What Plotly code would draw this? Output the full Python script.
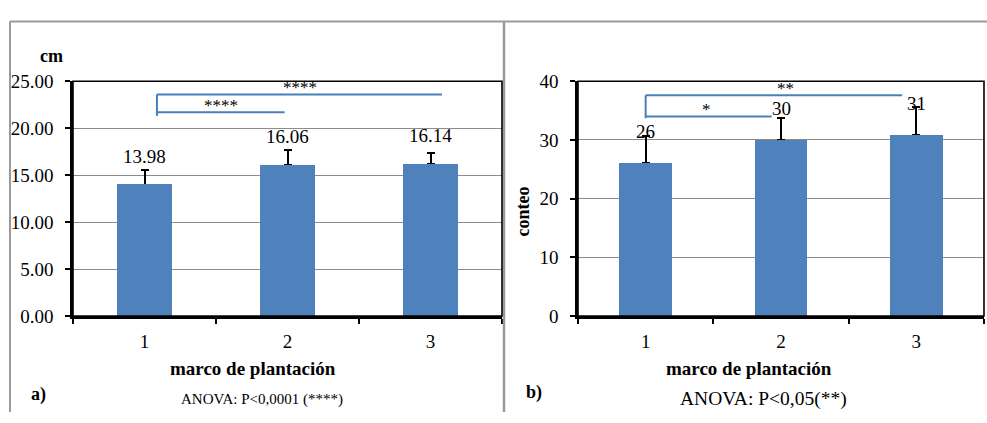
import plotly.graph_objects as go

# ---------------- data ----------------
categories = ["1", "2", "3"]
height_cm = [13.98, 16.06, 16.14]
height_err = [1.6, 1.65, 1.27]
height_labels = ["13.98", "16.06", "16.14"]

count_vals = [26.0, 30.0, 30.8]
count_err = [4.6, 3.8, 4.8]
count_labels = ["26", "30", "31"]

yticks_a = [0, 5, 10, 15, 20, 25]
yticks_b = [0, 10, 20, 30, 40]

# significance brackets: (x start, x end, y level, label, label x)
brackets_a = [(0.087, 2.08, 23.6, "****", 1.09), (0.087, 0.98, 21.7, "****", 0.535)]
brackets_a_drop = 21.3
brackets_b = [(0.0, 1.895, 37.6, "**", 1.03), (0.0, 0.93, 34.0, "*", 0.45)]
brackets_b_drop = 33.7

W, H = 987, 423
FONT = "Liberation Serif, Times New Roman, DejaVu Serif, serif"
BAR = "#4F81BD"
BRK = "#4A7EBB"
GRID = "#8C8C8C"


def px(x):
    return x / W


def py(y):
    return 1 - y / H


fig = go.Figure()

for xa, ya, vals, errs in (("x", "y", height_cm, height_err), ("x2", "y2", count_vals, count_err)):
    # bars carrying the (upper) error bars
    fig.add_trace(go.Bar(
        x=categories, y=vals, width=0.39, marker=dict(color=BAR, line=dict(width=0)),
        error_y=dict(type="data", array=errs, arrayminus=[0] * len(errs), symmetric=False,
                     color="black", thickness=2, width=4),
        xaxis=xa, yaxis=ya, showlegend=False, hoverinfo="skip"))
    # same bars again on top, hiding the lower cap of the error bars
    fig.add_trace(go.Bar(
        x=categories, y=vals, width=0.39, marker=dict(color=BAR, line=dict(width=0)),
        xaxis=xa, yaxis=ya, showlegend=False, hoverinfo="skip"))

tickfont = dict(family=FONT, size=19, color="black")
xcommon = dict(type="category", tickson="boundaries", ticks="outside", ticklen=5,
               tickwidth=2, tickcolor="black", showline=True, linecolor="black",
               linewidth=2.5, showgrid=False, tickfont=tickfont, ticklabelstandoff=6,
               fixedrange=True)
ycommon = dict(ticks="outside", ticklen=5, tickwidth=2, tickcolor="black", showline=True,
               linecolor="black", linewidth=2.5, showgrid=True, gridcolor=GRID,
               gridwidth=1.3, zeroline=False, tickfont=tickfont, ticklabelstandoff=8,
               fixedrange=True)

ydom = [py(322), py(75)]
fig.update_layout(
    width=W, height=H, autosize=False, margin=dict(l=0, r=0, t=0, b=0, pad=0),
    paper_bgcolor="white", plot_bgcolor="white", bargap=0, barmode="overlay",
    xaxis=dict(domain=[px(73), px(502)], anchor="y", **xcommon),
    yaxis=dict(domain=ydom, anchor="x", range=[0, 25], tickvals=yticks_a,
               tickformat=".2f", **ycommon),
    xaxis2=dict(domain=[px(578), px(984)], anchor="y2", **xcommon),
    yaxis2=dict(domain=ydom, anchor="x2", range=[0, 40], tickvals=yticks_b,
                tickformat="d", **ycommon),
)

shapes = []
# panel frames
shapes.append(dict(type="line", xref="paper", yref="paper", x0=px(10), x1=1, y0=py(12), y1=py(12),
                   line=dict(color="#9A9A9A", width=2)))
shapes.append(dict(type="line", xref="paper", yref="paper", x0=px(10), x1=px(10), y0=py(12), y1=0,
                   line=dict(color="#9A9A9A", width=2)))
shapes.append(dict(type="line", xref="paper", yref="paper", x0=px(504), x1=px(504), y0=py(12), y1=0,
                   line=dict(color="#9A9A9A", width=2.5)))
# plot-area borders (top/right)
for xa, ya in (("x", "y"), ("x2", "y2")):
    shapes.append(dict(type="rect", xref=f"{xa} domain", yref=f"{ya} domain", x0=0, x1=1, y0=0, y1=1,
                       line=dict(color="black", width=1.6), layer="above"))

annotations = []


def add_brackets(brs, drop, xa, ya):
    top = max(b[2] for b in brs)
    x0 = brs[0][0]
    shapes.append(dict(type="line", xref=xa, yref=ya, x0=x0, x1=x0, y0=drop, y1=top,
                       line=dict(color=BRK, width=2)))
    for (a, b, lev, lab, lx) in brs:
        shapes.append(dict(type="line", xref=xa, yref=ya, x0=a, x1=b, y0=lev, y1=lev,
                           line=dict(color=BRK, width=2)))
        annotations.append(dict(xref=xa, yref=ya, x=lx, y=lev, text=lab, showarrow=False,
                                yanchor="middle", xanchor="center", yshift=7,
                                font=dict(family=FONT, size=17, color="black")))


add_brackets(brackets_a, brackets_a_drop, "x", "y")
add_brackets(brackets_b, brackets_b_drop, "x2", "y2")

# value labels
for i, (v, lab) in enumerate(zip(height_cm, height_labels)):
    annotations.append(dict(xref="x", yref="y", x=i, y=v, text=lab, showarrow=False,
                            yanchor="bottom", yshift=16, font=dict(family=FONT, size=19, color="black")))
for i, (v, lab) in enumerate(zip(count_vals, count_labels)):
    annotations.append(dict(xref="x2", yref="y2", x=i, y=v, text=lab, showarrow=False,
                            yanchor="bottom", yshift=19, font=dict(family=FONT, size=19, color="black")))


def ptext(x, y, text, size=18, bold=False, angle=0):
    t = f"<b>{text}</b>" if bold else text
    annotations.append(dict(xref="paper", yref="paper", x=px(x), y=py(y), text=t, showarrow=False,
                            xanchor="center", yanchor="middle", textangle=angle,
                            font=dict(family=FONT, size=size, color="black")))


ptext(51, 48, "cm", 18, True)
ptext(523, 212, "conteo", 18, True, -90)
ptext(253, 377, "marco de plantación", 19, True)
ptext(749, 377, "marco de plantación", 19, True)
ptext(38, 405, "a)", 18, True)
ptext(534, 403, "b)", 18, True)
ptext(262, 410, "ANOVA: P&lt;0,0001 (****)", 15)
ptext(763, 409, "ANOVA: P&lt;0,05(**)", 19.5)

fig.update_layout(shapes=shapes, annotations=annotations)

post = (
    "var st=document.createElement('style');"
    "st.textContent='html,body{margin:0;padding:0;width:987px;height:423px;overflow:hidden;}"
    ".plotly-graph-div{position:fixed !important;left:0;top:0;}';"
    "document.head.appendChild(st);"
    "var gd=document.getElementById('{plot_id}');"
    "gd.style.width='987px';gd.style.height='423px';"
    "Plotly.relayout(gd,{width:987,height:423});"
)
fig.write_html("out.html", config={"responsive": False, "displayModeBar": False},
               post_script=post)
